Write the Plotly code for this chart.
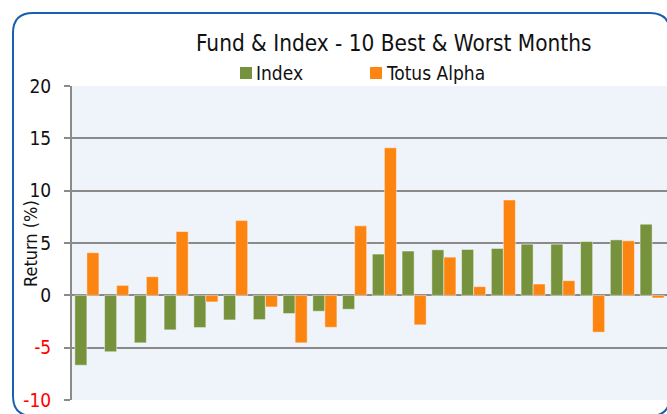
import plotly.graph_objects as go

months = [f"M{i}" for i in range(1, 21)]
index_vals = [-6.67, -5.39, -4.54, -3.30, -3.08, -2.35, -2.32, -1.74, -1.52, -1.33,
              3.94, 4.23, 4.35, 4.38, 4.48, 4.89, 4.89, 5.14, 5.30, 6.80]
totus_vals = [4.07, 0.95, 1.78, 6.10, -0.63, 7.14, -1.11, -4.54, -3.05, 6.64,
              14.1, -2.82, 3.65, 0.83, 9.11, 1.08, 1.40, -3.52, 5.21, -0.25]
tick_vals = [20, 15, 10, 5, 0, -5, -10]
tick_text = ["20", "15", "10", "5", "0",
             "<span style='color:#FF0000'>-5</span>",
             "<span style='color:#FF0000'>-10</span>"]

GREEN = "#76923C"
ORANGE = "#FC8410"
FONT = "Liberation Sans Narrow, Arial Narrow, DejaVu Sans Condensed, sans-serif"

W, H = 667, 414
L, R, T, B = 72, 0, 86, 14
PW = W - L - R
PH = H - T - B


def px(x):
    return (x - L) / PW


def py(y):
    return (H - B - y) / PH


fig = go.Figure()
fig.add_trace(go.Bar(x=months, y=index_vals, name="Index",
                     marker=dict(color=GREEN, line=dict(color="rgba(255,255,255,0.45)", width=1))))
fig.add_trace(go.Bar(x=months, y=totus_vals, name="Totus Alpha",
                     marker=dict(color=ORANGE, line=dict(color="rgba(255,255,255,0.45)", width=1))))

# rounded border
x0, x1, y0, y1, r = 13, 670, 13, 416, 20
path = (f"M{px(x0 + r)},{py(y0)} L{px(x1 - r)},{py(y0)} "
        f"Q{px(x1)},{py(y0)} {px(x1)},{py(y0 + r)} "
        f"L{px(x1)},{py(y1 - r)} Q{px(x1)},{py(y1)} {px(x1 - r)},{py(y1)} "
        f"L{px(x0 + r)},{py(y1)} Q{px(x0)},{py(y1)} {px(x0)},{py(y1 - r)} "
        f"L{px(x0)},{py(y0 + r)} Q{px(x0)},{py(y0)} {px(x0 + r)},{py(y0)} Z")
shapes = [dict(type="path", xref="paper", yref="paper", path=path,
               line=dict(color="#1A5FAE", width=2), fillcolor="rgba(0,0,0,0)", layer="above")]

# manual legend squares
shapes.append(dict(type="rect", xref="paper", yref="paper",
                   x0=px(240), x1=px(252), y0=py(79), y1=py(67),
                   fillcolor=GREEN, line=dict(width=0)))
shapes.append(dict(type="rect", xref="paper", yref="paper",
                   x0=px(370), x1=px(382), y0=py(79), y1=py(67),
                   fillcolor=ORANGE, line=dict(width=0)))

annotations = [
    dict(text="Fund &amp; Index - 10 Best &amp; Worst Months", xref="paper", yref="paper",
         x=px(393), y=py(43), xanchor="center", yanchor="middle", showarrow=False,
         font=dict(family=FONT, size=22.4, color="#111111")),
    dict(text="Index", xref="paper", yref="paper", x=px(254), y=py(73),
         xanchor="left", yanchor="middle", showarrow=False,
         font=dict(family=FONT, size=19, color="#111111")),
    dict(text="Totus Alpha", xref="paper", yref="paper", x=px(384), y=py(73),
         xanchor="left", yanchor="middle", showarrow=False,
         font=dict(family=FONT, size=19, color="#111111")),
    dict(text="Return (%)", xref="paper", yref="paper", x=px(30), y=py(244),
         xanchor="center", yanchor="middle", textangle=-90, showarrow=False,
         font=dict(family=FONT, size=18, color="#111111")),
]

fig.update_layout(
    width=W, height=H,
    margin=dict(l=L, r=R, t=T, b=B, pad=0),
    paper_bgcolor="white",
    plot_bgcolor="#EFF3FA",
    barmode="group",
    bargap=0.19,
    bargroupgap=0,
    showlegend=False,
    shapes=shapes,
    annotations=annotations,
    xaxis=dict(showticklabels=False, showgrid=False, zeroline=False, showline=False,
               ticks="", range=[-0.5, 19.5], fixedrange=True),
    yaxis=dict(range=[-10, 20], tickvals=tick_vals, ticktext=tick_text,
               showgrid=True, gridcolor="#8A8A8A", gridwidth=2,
               zeroline=True, zerolinecolor="#8A8A8A", zerolinewidth=2,
               showline=True, linecolor="#8A8A8A", linewidth=2,
               ticks="outside", ticklen=6, tickwidth=2, tickcolor="#8A8A8A",
               ticklabelstandoff=9,
               tickfont=dict(family=FONT, size=19, color="#111111")),
)

fig.write_html("out.html", config={"displayModeBar": False},
               post_script="document.body.style.margin='0';document.body.style.overflow='hidden';")
